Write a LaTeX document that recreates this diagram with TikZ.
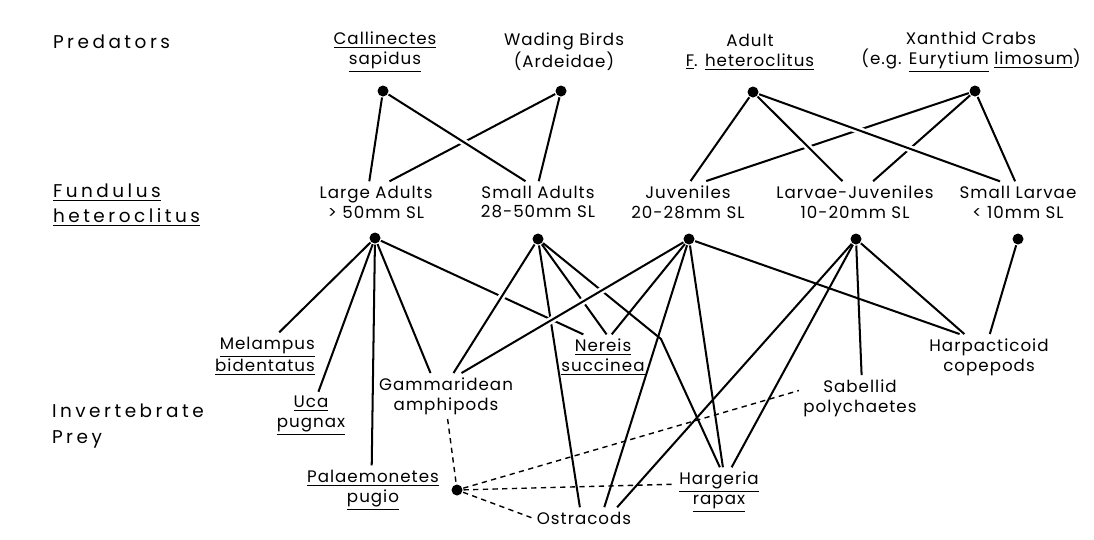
\documentclass[tikz,border=0pt]{standalone}
\usepackage{fontspec}
\setmainfont[LetterSpace=6]{Poppins}
\newfontfamily\headfont[LetterSpace=19]{Poppins}

\begin{document}
\begin{tikzpicture}[x=0.02cm, y=-0.02cm, line width=1.15pt,
    fdot/.style = {circle, fill, inner sep=0pt, minimum size=0.22cm},
    lbl/.style = {align=center, inner sep=2pt, font=\fontsize{9.5}{11.3}\selectfont},
    head/.style = {anchor=west, align=left, inner sep=0pt},
    over/.style = {preaction={draw=white, line width=4pt, shorten <=12pt, shorten >=12pt}},
    weak/.style = {line width=0.8pt, dash pattern=on 3pt off 2.5pt}]
    \useasboundingbox (0,0) rectangle (1094,539);

    % row headings
    \node[head, font=\headfont\fontsize{10.5}{14}\selectfont] (hpred) at (52,42) {Predators};
    \node[head, font=\headfont\fontsize{10.5}{14.2}\selectfont] (hfun) at (52,205) {\underline{Fundulus}\\\underline{heteroclitus}};
    \node[head, font=\headfont\fontsize{10.5}{14.7}\selectfont] (hinv) at (51,426) {Invertebrate\\Prey};

    % predators
    \node[lbl] (cal) at (385,52) {\underline{Callinectes}\\\underline{sapidus}};
    \node[lbl] (wad) at (564,52) {Wading Birds\\(Ardeidae)};
    \node[lbl] (adf) at (750,52) {Adult\\\underline{F}. \underline{heteroclitus}};
    \node[lbl] (xan) at (971,52) {Xanthid Crabs\\(e.g. \underline{Eurytium} \underline{limosum})};
    \node[fdot] (pcal) at (383,91) {};
    \node[fdot] (pwad) at (561,91) {};
    \node[fdot] (padf) at (753,92) {};
    \node[fdot] (pxan) at (975,91) {};

    % Fundulus size classes
    \node[lbl] (la) at (376,202) {Large Adults\\> 50mm SL};
    \node[lbl] (sa) at (538,202) {Small Adults\\28-50mm SL};
    \node[lbl] (ju) at (688,202) {Juveniles\\20-28mm SL};
    \node[lbl] (lj) at (855,202) {Larvae-Juveniles\\10-20mm SL};
    \node[lbl] (sl) at (1018,202) {Small Larvae\\< 10mm SL};
    \node[fdot] (dla) at (375,238) {};
    \node[fdot] (dsa) at (538,239) {};
    \node[fdot] (dju) at (689,239) {};
    \node[fdot] (dlj) at (856,239) {};
    \node[fdot] (dsl) at (1018,239) {};

    % prey
    \node[lbl, align=right] (mel) at (265,356) {\underline{Melampus}\\\underline{bidentatus}};
    \node[lbl] (uca) at (311,416) {\underline{Uca}\\\underline{pugnax}};
    \node[lbl] (pal) at (373,490) {\underline{Palaemonetes}\\\underline{pugio}};
    \node[lbl] (gam) at (446,396) {Gammaridean\\amphipods};
    \node[lbl] (ner) at (603,357) {\underline{Nereis}\\\underline{succinea}};
    \node[lbl] (sab) at (860,398) {Sabellid\\polychaetes};
    \node[lbl] (harp) at (989,357) {Harpacticoid\\copepods};
    \node[lbl] (harg) at (719,492) {\underline{Hargeria}\\\underline{rapax}};
    \node[lbl] (ostr) at (584,518) {Ostracods};
    \node[fdot] (hub) at (457,490) {};
    \coordinate (kink) at (661,339);

    % predators -> Fundulus
    \path (pwad) edge (la.57);
    \path (pwad) edge (sa.88);
    \path (pcal) edge (la.108);
    \path (pcal) edge[over] (sa.121);
    \path (pxan) edge (ju.49);
    \path (pxan) edge (lj.49);
    \path (pxan) edge (sl.98);
    \path (padf) edge (ju.83);
    \path (padf) edge[over] (lj.121);
    \path (padf) edge[over] (sl.131);

    % Fundulus -> prey
    \path (dla) edge (mel.59) edge (uca.73) edge (pal.93) edge (gam.124) edge (ner.131);
    \path (dsa) edge (ner.81) edge (ostr.111);
    \draw (dsa) -- (kink) -- (harg.88);
    \path (dju) edge (ner.69) edge (ostr.28) edge (harg.81) edge (harp.142);
    \path (dsa) edge[over] (gam.72);
    \path (dju) edge[over] (gam.56);
    \path (dlj) edge (ostr.18) edge (harg.63) edge (sab.86) edge (harp.137);
    \path (dsl) edge (harp.88);

    % links to ostracods
    \draw[weak] (gam.274) -- (hub);
    \draw[weak] (hub) -- (sab.173);
    \draw[weak] (hub) -- (harg.170);
    \draw[weak] (hub) -- (ostr.west);
\end{tikzpicture}
\end{document}
